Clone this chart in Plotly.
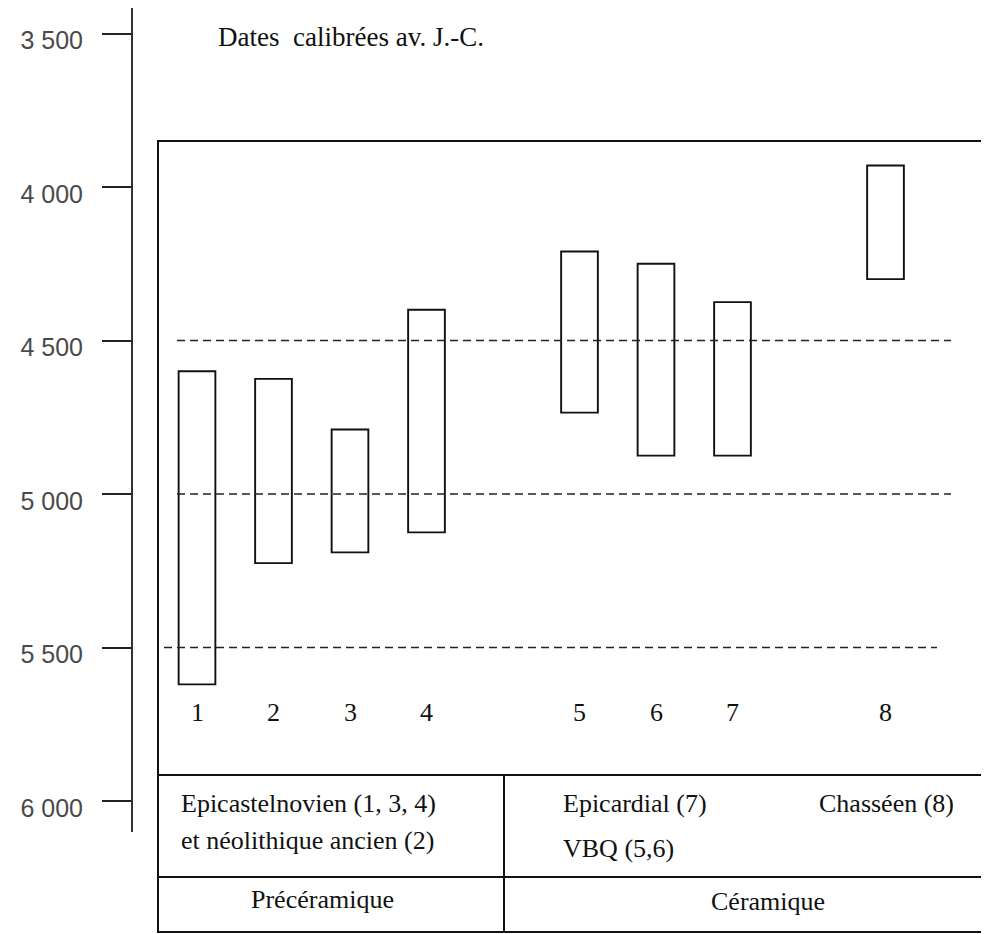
import plotly.graph_objects as go

# ---- data ----
site_labels = ["1", "2", "3", "4", "5", "6", "7", "8"]
date_young = [4600, 4625, 4790, 4400, 4210, 4250, 4375, 3930]   # top of each range (cal BC)
date_old = [5620, 5225, 5190, 5125, 4735, 4875, 4875, 4300]     # bottom of each range (cal BC)
tick_values = [3500, 4000, 4500, 5000, 5500, 6000]
tick_labels = ["3 500", "4 000", "4 500", "5 000", "5 500", "6 000"]
ref_levels = [4500, 5000, 5500]

# ---- layout helpers (pixel geometry measured on the 989x934 page) ----
W, H = 989, 934
OFF = 8                                     # default page margin of the html body
slots = [1, 2, 3, 4, 6, 7, 8, 10]          # horizontal slot of each site (gaps between groups)
SLOT_PX, SLOT1_PX = 76.5, 197.0
Y0_PX, Y_SCALE = 187.0, 0.307               # 4000 at y=187 px, 0.307 px per year
AX_X, AX_TOP, AX_BOT = 133, 8, 832
LABEL_DROP_PX = 7                           # tick labels sit a little below their ticks


def fx(px):          # screen px -> figure px
    return px - OFF


def s_of(px):        # screen px -> slot units
    return 1 + (px - SLOT1_PX) / SLOT_PX


def v_of(py):        # screen px -> years
    return 4000 + (py - Y0_PX) / Y_SCALE


def xp(px):
    return fx(px) / W


def yp(py):
    return min(1.0, max(0.0, 1 - fx(py) / H))


SERIF = "Liberation Serif"
fig = go.Figure()

# dashed reference lines (drawn first, bars hide them)
ref_extent = {4500: (177, 951), 5000: (177, 951), 5500: (164, 937)}
for lv in ref_levels:
    a, b = ref_extent[lv]
    fig.add_trace(go.Scatter(
        x=[s_of(a), s_of(b)], y=[lv, lv], mode="lines",
        line=dict(color="#222", width=1.6, dash="8px,5px"),
        hoverinfo="skip", showlegend=False))

fig.add_trace(go.Bar(
    x=slots, base=date_young,
    y=[o - y for o, y in zip(date_old, date_young)],
    width=0.48,
    marker=dict(color="white", line=dict(color="#111", width=1.9)),
    showlegend=False, hoverinfo="skip"))

# empty trace so the label axis is drawn
fig.add_trace(go.Scatter(x=[None], y=[None], yaxis="y2", mode="markers",
                         showlegend=False, hoverinfo="skip"))

shapes = []
box_l, box_t, box_r, box_b = 158, 141, 985, 932
line = dict(color="#111", width=2)
shapes.append(dict(type="rect", xref="paper", yref="paper",
                   x0=xp(box_l), x1=xp(box_r), y0=yp(box_b), y1=yp(box_t), line=line))
for yy in (775, 877):
    shapes.append(dict(type="line", xref="paper", yref="paper",
                       x0=xp(box_l), x1=xp(box_r), y0=yp(yy), y1=yp(yy), line=line))
shapes.append(dict(type="line", xref="paper", yref="paper",
                   x0=xp(504), x1=xp(504), y0=yp(775), y1=yp(box_b), line=line))

annotations = []
FS = 26


def txt(text, x, y, xanchor="left", size=FS, color="#111", family=SERIF):
    annotations.append(dict(text=text, xref="paper", yref="paper", x=xp(x), y=yp(y),
                            xanchor=xanchor, yanchor="middle", showarrow=False,
                            font=dict(family=family, size=size, color=color)))


txt("Dates&nbsp;&nbsp;calibrées av. J.-C.", 216, 37, size=27)
for lab, s in zip(site_labels, slots):
    annotations.append(dict(text=lab, xref="x", yref="paper", x=s, y=yp(712),
                            xanchor="center", yanchor="middle", showarrow=False,
                            font=dict(family=SERIF, size=FS, color="#111")))
txt("Epicastelnovien (1, 3, 4)", 179, 803)
txt("et néolithique ancien (2)", 179, 840)
txt("Epicardial (7)", 561, 803)
txt("VBQ (5,6)", 561, 848)
txt("Chasséen (8)", 817, 803)
txt("Précéramique", 322, 899, xanchor="center")
txt("Céramique", 768, 901, xanchor="center")

y_range = [v_of(AX_BOT), v_of(AX_TOP)]
drop = LABEL_DROP_PX / Y_SCALE
fig.update_layout(
    width=W, height=H,
    margin=dict(l=0, r=0, t=0, b=0),
    paper_bgcolor="white", plot_bgcolor="white",
    shapes=shapes, annotations=annotations,
    xaxis=dict(domain=[fx(AX_X) / W, 1], range=[s_of(AX_X), s_of(W + OFF)],
               visible=False, fixedrange=True),
    yaxis=dict(domain=[yp(AX_BOT), yp(AX_TOP)], range=y_range,
               showgrid=False, zeroline=False, showline=True, linecolor="#333", linewidth=2,
               ticks="outside", ticklen=29, tickwidth=2, tickcolor="#222",
               tickvals=tick_values, showticklabels=False, fixedrange=True),
    yaxis2=dict(overlaying="y", anchor="x", side="left",
                range=[y_range[0] - drop, y_range[1] - drop],
                showgrid=False, zeroline=False, showline=False,
                ticks="outside", ticklen=29, tickwidth=2, tickcolor="rgba(0,0,0,0)",
                tickvals=tick_values, ticktext=tick_labels, ticklabelstandoff=15,
                tickfont=dict(family="Liberation Sans", size=25, color="#4a4a4a"),
                fixedrange=True),
)

fig.write_html("out.html")
